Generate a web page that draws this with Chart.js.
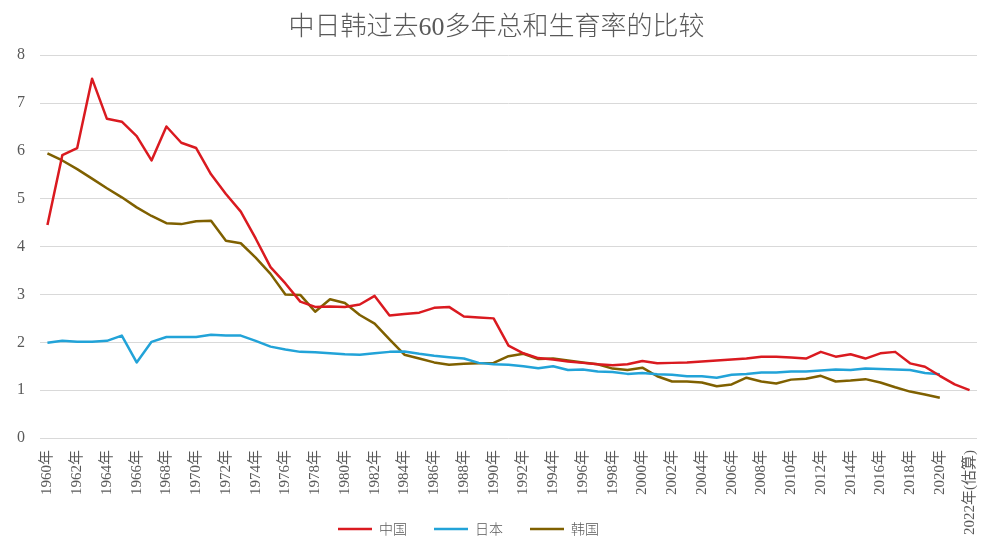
<!DOCTYPE html>
<html>
<head>
<meta charset="utf-8">
<script src="https://cdn.jsdelivr.net/npm/chart.js@4.4.1/dist/chart.umd.min.js"></script>
<style>
  html, body { margin: 0; padding: 0; background: #ffffff; }
  canvas { display: block; }
</style>
</head>
<body>
<canvas id="c" width="992" height="551"></canvas>
<script>
const categories = [
  "1960年","1961年","1962年","1963年","1964年","1965年","1966年","1967年","1968年","1969年",
  "1970年","1971年","1972年","1973年","1974年","1975年","1976年","1977年","1978年","1979年",
  "1980年","1981年","1982年","1983年","1984年","1985年","1986年","1987年","1988年","1989年",
  "1990年","1991年","1992年","1993年","1994年","1995年","1996年","1997年","1998年","1999年",
  "2000年","2001年","2002年","2003年","2004年","2005年","2006年","2007年","2008年","2009年",
  "2010年","2011年","2012年","2013年","2014年","2015年","2016年","2017年","2018年","2019年",
  "2020年","2021年","2022年(估算)"
];

const china = [
  4.45,5.91,6.06,7.51,6.67,6.61,6.31,5.80,6.51,6.17,
  6.06,5.51,5.10,4.73,4.17,3.57,3.23,2.85,2.74,2.75,
  2.74,2.79,2.97,2.56,2.59,2.62,2.72,2.74,2.54,2.52,
  2.50,1.93,1.77,1.67,1.64,1.60,1.57,1.54,1.52,1.54,
  1.61,1.56,1.57,1.58,1.60,1.62,1.64,1.66,1.70,1.70,
  1.68,1.66,1.80,1.70,1.75,1.66,1.77,1.80,1.56,1.49,
  1.30,1.12,1.00
];

const japan = [
  1.99,2.03,2.01,2.01,2.03,2.14,1.58,2.01,2.11,2.11,
  2.11,2.16,2.14,2.14,2.03,1.91,1.85,1.80,1.79,1.77,
  1.75,1.74,1.77,1.80,1.81,1.76,1.72,1.69,1.66,1.57,
  1.54,1.53,1.50,1.46,1.50,1.42,1.43,1.39,1.38,1.34,
  1.36,1.33,1.32,1.29,1.29,1.26,1.32,1.34,1.37,1.37,
  1.39,1.39,1.41,1.43,1.42,1.45,1.44,1.43,1.42,1.36,
  1.33,null,null
];

const korea = [
  5.95,5.80,5.62,5.42,5.22,5.03,4.82,4.64,4.49,4.47,
  4.53,4.54,4.12,4.07,3.77,3.43,3.00,2.99,2.64,2.90,
  2.82,2.57,2.39,2.06,1.74,1.66,1.58,1.53,1.55,1.56,
  1.57,1.71,1.76,1.65,1.66,1.62,1.58,1.54,1.45,1.42,
  1.47,1.29,1.18,1.18,1.16,1.08,1.12,1.26,1.18,1.14,
  1.22,1.24,1.30,1.18,1.20,1.23,1.16,1.06,0.97,0.91,
  0.84,null,null
];

const seriesNames = ["中国", "日本", "韩国"];
const titleText = "中日韩过去60多年总和生育率的比较";

const TEXT = "#595959";
const SERIF = "'Liberation Serif', 'Noto Sans CJK SC', serif";
const CJK = "'Noto Sans CJK SC', sans-serif";

// Nudge title and legend horizontally (as in the reference) and let the
// x-axis labels extend below the axis box without being clipped.
const layoutTweaks = {
  id: 'layoutTweaks',
  afterLayout(chart) {
    const lg = chart.legend;
    if (lg) { lg.left -= 21; lg.right -= 21; }
    const tb = chart.titleBlock;
    if (tb) { tb.left += 7; tb.right += 7; }
    const x = chart.scales.x;
    if (x) { x.bottom = chart.height; }
  }
};

function ds(label, data, color) {
  return {
    label, data,
    borderColor: color,
    backgroundColor: color,
    borderWidth: 2.5,
    pointRadius: 0,
    pointHoverRadius: 0,
    tension: 0,
    fill: false,
    spanGaps: false,
    borderJoinStyle: 'round',
    pointStyle: 'line'
  };
}

new Chart(document.getElementById('c'), {
  type: 'line',
  data: {
    labels: categories,
    datasets: [
      ds(seriesNames[0], china, '#DA1A20'),
      ds(seriesNames[1], japan, '#22A3D8'),
      ds(seriesNames[2], korea, '#7F6000')
    ]
  },
  plugins: [layoutTweaks],
  options: {
    responsive: false,
    animation: false,
    layout: { padding: { left: 2, right: 15, top: 0, bottom: 5 } },
    plugins: {
      title: {
        display: true,
        text: titleText,
        color: TEXT,
        font: { family: "'Liberation Serif', 'Noto Sans CJK SC', serif", size: 26, weight: 300 },
        padding: { top: 13, bottom: 11 }
      },
      legend: {
        position: 'bottom',
        labels: {
          usePointStyle: true,
          pointStyleWidth: 34,
          padding: 27,
          color: TEXT,
          font: { family: CJK, size: 14, weight: 300 }
        }
      },
      tooltip: { enabled: false }
    },
    scales: {
      x: {
        offset: true,
        grid: { display: false, drawTicks: false },
        border: { display: false },
        ticks: {
          autoSkip: false,
          minRotation: 90,
          maxRotation: 90,
          padding: 12,
          color: TEXT,
          font: { family: SERIF, size: 15 },
          callback: (v, i) => (i % 2 === 0 ? categories[i] : '')
        },
        afterFit: (s) => { s.height = 57; s.paddingLeft = 0; s.paddingRight = 0; }
      },
      y: {
        min: 0,
        max: 8,
        ticks: {
          stepSize: 1,
          padding: 15,
          color: TEXT,
          font: { family: SERIF, size: 16 }
        },
        grid: { color: '#d9d9d9', lineWidth: 1, drawTicks: false },
        border: { display: false }
      }
    }
  }
});
</script>
</body>
</html>
